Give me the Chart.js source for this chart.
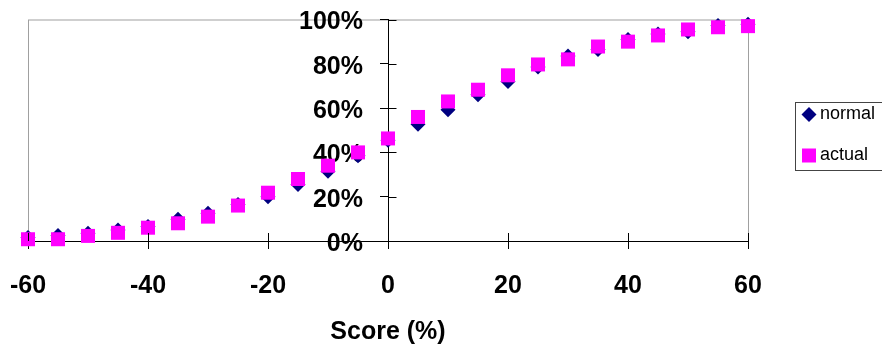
<!DOCTYPE html>
<html>
<head>
<meta charset="utf-8">
<script src="https://cdn.jsdelivr.net/npm/chart.js@4.4.0/dist/chart.umd.min.js"></script>
<style>
  html, body { margin: 0; padding: 0; background: #fff; }
</style>
</head>
<body>
<canvas id="chart-score" width="882" height="347"></canvas>
<script>
var scores = [-60, -55, -50, -45, -40, -35, -30, -25, -20, -15, -10, -5, 0, 5, 10, 15, 20, 25, 30, 35, 40, 45, 50, 55, 60];
var normalPct = [1.6, 2.5, 3.5, 5, 6.5, 9.8, 12.5, 16.5, 20, 25.5, 31.5, 38.5, 45.5, 52.7, 59.3, 66, 72, 78.5, 83.5, 86.5, 91, 93.5, 94.5, 97.3, 97.8];
var actualPct = [0.8, 0.8, 2.3, 3.7, 6, 8, 11, 16, 21.8, 28, 34, 40, 46.3, 56, 63, 68.3, 74.8, 79.7, 82, 87.8, 90, 92.8, 95.5, 96.5, 97];
var seriesNames = ['normal', 'actual'];

function toPoints(vals) {
  return scores.map(function (s, i) { return { x: s, y: vals[i] }; });
}

var labelFont = { family: 'Arial, "Liberation Sans", sans-serif', size: 25, weight: 'bold' };

// grey frame round the plot, inner half of the crossing ticks,
// and push the % labels away from the axis drawn at x = 0
var framePlugin = {
  id: 'frame',
  beforeDraw: function (chart) {
    var a = chart.chartArea, ctx = chart.ctx;
    ctx.save();
    ctx.strokeStyle = '#a0a0a0';
    ctx.lineWidth = 1;
    ctx.strokeRect(a.left + 0.5, a.top + 0.5, a.right - a.left, a.bottom - a.top);
    ctx.restore();
    var ys = chart.scales.y;
    var x0 = chart.scales.x.getPixelForValue(0);
    ys.getLabelItems(a).forEach(function (it) {
      it.options.translation[0] = x0 - 25;
      it.options.translation[1] += 3;
    });
  },
  afterDraw: function (chart) {
    var a = chart.chartArea, ctx = chart.ctx;
    var xs = chart.scales.x, ys = chart.scales.y;
    var x0 = Math.round(xs.getPixelForValue(0)) + 0.5;
    ctx.save();
    ctx.strokeStyle = '#000';
    ctx.lineWidth = 1;
    ctx.beginPath();
    xs.ticks.forEach(function (t) {
      var px = Math.round(xs.getPixelForValue(t.value)) + 0.5;
      ctx.moveTo(px, a.bottom);
      ctx.lineTo(px, a.bottom - 8);
    });
    ys.ticks.forEach(function (t) {
      var py = Math.round(ys.getPixelForValue(t.value)) + 0.5;
      ctx.moveTo(x0, py);
      ctx.lineTo(x0 + 8, py);
    });
    ctx.stroke();
    ctx.restore();
  }
};

// boxed legend to the right of the plot
var legendBox = {
  id: 'legendBox',
  afterDraw: function (chart) {
    var ctx = chart.ctx;
    var left = 795, top = 102, bottom = 170;
    ctx.save();
    ctx.strokeStyle = '#444';
    ctx.lineWidth = 1;
    ctx.strokeRect(left + 0.5, top + 0.5, 120, bottom - top);
    ctx.font = '18px Arial, "Liberation Sans", sans-serif';
    ctx.textBaseline = 'middle';
    var rows = [114.5, 155.5];
    chart.data.datasets.forEach(function (ds, i) {
      var cx = 809, cy = rows[i];
      ctx.fillStyle = ds.backgroundColor;
      ctx.beginPath();
      if (ds.pointStyle === 'rectRot') {
        ctx.moveTo(cx, cy - 7.5);
        ctx.lineTo(cx + 7.5, cy);
        ctx.lineTo(cx, cy + 7.5);
        ctx.lineTo(cx - 7.5, cy);
        ctx.closePath();
      } else {
        ctx.rect(cx - 7, cy - 7, 14, 14);
      }
      ctx.fill();
      ctx.fillStyle = '#000';
      ctx.fillText(ds.label, 820, cy);
    });
    ctx.restore();
  }
};

var chartScore = new Chart(document.getElementById('chart-score'), {
  type: 'scatter',
  data: {
    datasets: [{
      label: seriesNames[0],
      data: toPoints(normalPct),
      pointStyle: 'rectRot',
      pointRadius: 7.5,
      pointHoverRadius: 7.5,
      backgroundColor: '#000080',
      borderColor: '#000080',
      borderWidth: 0,
      clip: false,
      order: 1
    }, {
      label: seriesNames[1],
      data: toPoints(actualPct),
      pointStyle: 'rect',
      pointRadius: 9.9,
      pointHoverRadius: 9.9,
      backgroundColor: '#ff00ff',
      borderColor: '#ff00ff',
      borderWidth: 0,
      clip: false,
      order: 0
    }]
  },
  options: {
    responsive: false,
    animation: false,
    devicePixelRatio: 1,
    layout: {
      padding: { left: 28, right: 134, top: 19.5, bottom: 0 }
    },
    scales: {
      x: {
        type: 'linear',
        min: -60,
        max: 60,
        ticks: { stepSize: 20, color: '#000', font: labelFont, padding: 22.5, maxRotation: 0 },
        grid: { drawOnChartArea: false, drawTicks: true, tickLength: 8, color: '#000' },
        border: { color: '#000', width: 1 },
        title: { display: true, text: 'Score (%)', color: '#000', font: labelFont, padding: { top: 15.5, bottom: 0 } },
        afterFit: function (s) { s.paddingLeft = 0; s.paddingRight = 0; s.height = 106; }
      },
      y: {
        type: 'linear',
        position: { x: 0 },
        min: 0,
        max: 100,
        ticks: {
          stepSize: 20,
          color: '#000',
          font: labelFont,
          callback: function (v) { return v + '%'; }
        },
        grid: { drawOnChartArea: false, drawTicks: true, tickLength: 8, color: '#000' },
        border: { color: '#000', width: 1 },
        afterFit: function (s) { s.paddingTop = 0; s.paddingBottom = 0; }
      }
    },
    plugins: {
      legend: { display: false },
      tooltip: { enabled: false }
    }
  },
  plugins: [framePlugin, legendBox]
});
</script>
</body>
</html>
